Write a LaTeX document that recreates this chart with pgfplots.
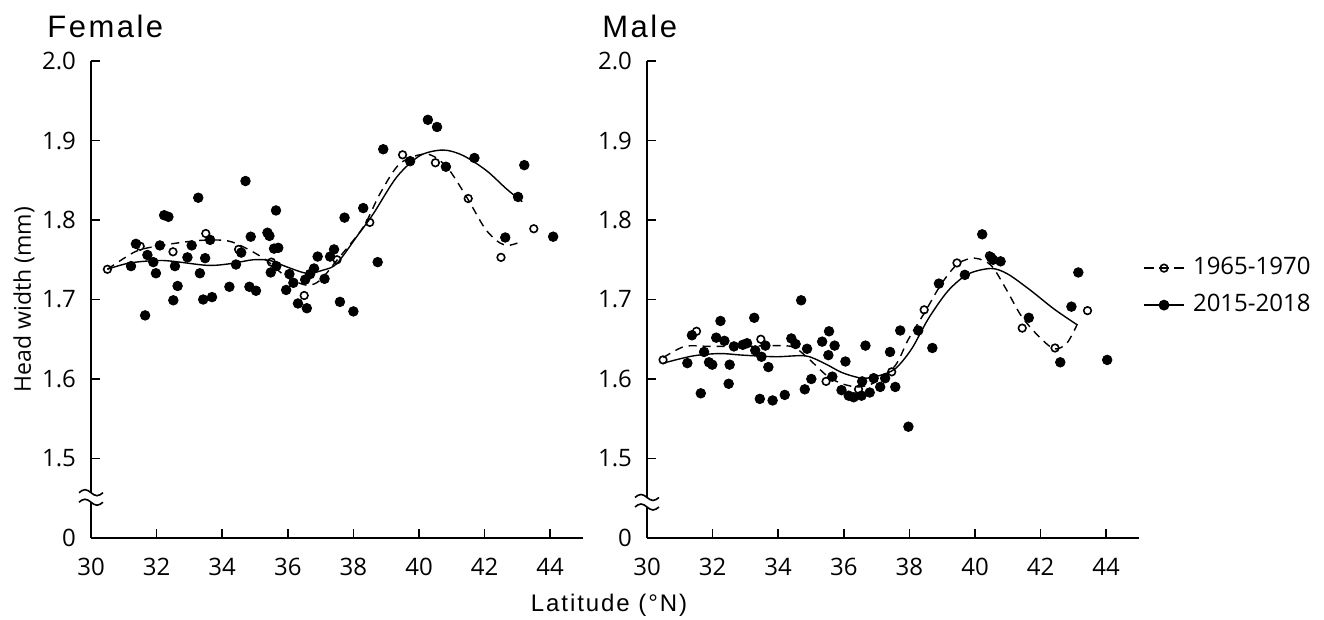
\documentclass[border=0pt]{standalone}
\usepackage{pgfplots}
\pgfplotsset{compat=1.18}
\usepackage{fontspec}
\setmainfont{Open Sans}
\newfontfamily\spacedfont[LetterSpace=8]{Liberation Sans}

\tikzset{brk/.style={line width=0.8pt}}
\pgfplotsset{
  hw/.style={
    scale only axis, width=246pt, height=238.5pt,
    xmin=30, xmax=45, ymin=1.4, ymax=2.0,
    axis x line=bottom, axis y line=left,
    axis line style={line width=0.9pt, -},
    xtick={30,32,...,44},
    ytick={1.4,1.5,1.6,1.7,1.8,1.9,2.0},
    yticklabels={0,1.5,1.6,1.7,1.8,1.9,2.0},
    tick align=inside, major tick length=4.5pt,
    tick style={line width=0.8pt, black},
    ticklabel style={font=\fontsize{12}{14}\selectfont},
    xticklabel style={yshift=-6.5pt},
    yticklabel style={xshift=-4pt},
    /pgf/number format/assume math mode=true,
    clip=false,
  },
  old pts/.style={black, only marks, mark=o, mark size=1.9pt, mark options={line width=0.8pt, fill=white}},
  new pts/.style={black, only marks, mark=*, mark size=2.4pt},
  old line/.style={black, no marks, smooth, line width=0.7pt, dash pattern=on 4pt off 3pt},
  new line/.style={black, no marks, smooth, line width=0.7pt},
}

\begin{document}
\begin{tikzpicture}
% ---------------- Female ----------------
\begin{axis}[hw, at={(0pt,0pt)}, anchor=south west]
\addplot[old line] coordinates {(30.5,1.738)(31.34,1.760)(32.0,1.767)(33.22,1.774)(34.14,1.774)(34.75,1.764)(35.36,1.749)(35.97,1.728)(36.58,1.718)(36.98,1.724)(37.49,1.749)(38.30,1.791)(38.81,1.833)(39.42,1.871)(40.23,1.883)(40.84,1.867)(41.45,1.829)(42.0,1.790)(42.4,1.773)(42.7,1.768)(43.0,1.771)};
\addplot[new line] coordinates {(30.5,1.738)(31.19,1.746)(32.21,1.749)(33.53,1.743)(34.24,1.745)(34.95,1.750)(35.46,1.749)(35.97,1.741)(36.58,1.733)(37.08,1.737)(37.49,1.745)(38.10,1.779)(38.61,1.808)(39.32,1.854)(40.03,1.881)(40.74,1.888)(41.35,1.881)(42.06,1.862)(42.67,1.839)(43.15,1.823)};
\addplot[new pts] coordinates {
(31.22,1.742)(31.37,1.770)(31.65,1.680)(31.72,1.756)(31.90,1.747)(31.98,1.733)(32.10,1.768)(32.23,1.806)(32.36,1.804)(32.51,1.699)
(32.56,1.742)(32.64,1.717)(32.94,1.753)(33.07,1.768)(33.27,1.828)(33.32,1.733)(33.42,1.700)(33.48,1.752)(33.63,1.775)(33.69,1.703)
(34.22,1.716)(34.42,1.744)(34.58,1.759)(34.71,1.849)(34.83,1.716)(34.87,1.779)(35.03,1.711)(35.38,1.784)(35.44,1.780)(35.48,1.734)
(35.58,1.764)(35.64,1.812)(35.71,1.765)(35.65,1.742)(35.95,1.712)(36.05,1.732)(36.17,1.721)(36.31,1.695)(36.58,1.689)(36.53,1.725)
(36.68,1.732)(36.80,1.739)(36.91,1.754)(37.12,1.726)(37.29,1.754)(37.41,1.763)(37.59,1.697)(37.73,1.803)(38.00,1.685)(38.30,1.815)
(38.74,1.747)(38.91,1.889)(39.73,1.874)(40.27,1.926)(40.55,1.917)(40.82,1.867)(41.69,1.878)(42.63,1.778)(43.02,1.829)(43.21,1.869)
(44.09,1.779)};
\addplot[old pts] coordinates {(30.5,1.738)(31.5,1.767)(32.5,1.760)(33.5,1.783)(34.5,1.763)(35.5,1.747)(36.5,1.705)(37.5,1.750)(38.5,1.797)(39.5,1.882)(40.5,1.872)(41.5,1.827)(42.5,1.753)(43.5,1.789)};
% axis break
\fill[white] ([xshift=-2pt]axis cs:30,1.445) rectangle ([xshift=2pt]axis cs:30,1.457);
\draw[brk] ([xshift=-6pt]axis cs:30,1.457) sin ++(3pt,1.5pt) cos ++(3pt,-1.5pt) sin ++(3pt,-1.5pt) cos ++(3pt,1.5pt);
\draw[brk] ([xshift=-6pt]axis cs:30,1.445) sin ++(3pt,1.5pt) cos ++(3pt,-1.5pt) sin ++(3pt,-1.5pt) cos ++(3pt,1.5pt);
\node[anchor=base west, font=\spacedfont\fontsize{15.5}{18}\selectfont, inner sep=0pt] at ([xshift=-22pt, yshift=12pt]rel axis cs:0,1) {Female};
\node[rotate=90, font=\fontsize{11.5}{13}\selectfont] at ([xshift=-33.5pt]rel axis cs:0,0.5) {Head width (mm)};
\node[anchor=base, font=\spacedfont\fontsize{12}{14}\selectfont, inner sep=0pt] at ([xshift=259pt, yshift=-37pt]rel axis cs:0,0) {Latitude (°N)};
\end{axis}

% ---------------- Male ----------------
\begin{axis}[hw, at={(278pt,0pt)}, anchor=south west,
  legend style={at={(axis description cs:1.008,0.527)}, anchor=west, draw=none, fill=none, inner sep=0pt,
    font=\fontsize{12}{14}\selectfont, row sep=6pt, nodes={inner sep=1pt, text height=8.5pt, text depth=2pt}},
  legend cell align=left,
]
\addlegendimage{legend image code/.code={
  \path[draw=none, fill=none] (0pt,-4pt) rectangle (23.5pt,4pt);
  \draw[black, line width=0.7pt, dash pattern=on 5pt off 2.5pt] (0pt,0pt) -- (20pt,0pt);
  \draw[black, line width=0.8pt] (10pt,0pt) circle (1.9pt);}}
\addlegendentry{1965-1970}
\addlegendimage{legend image code/.code={
  \path[draw=none, fill=none] (0pt,-4pt) rectangle (23.5pt,4pt);
  \draw[black, line width=0.7pt] (0pt,0pt) -- (20pt,0pt);
  \fill[black] (10pt,0pt) circle (2.5pt);}}
\addlegendentry{2015-2018}
\addplot[old line, forget plot] coordinates {(30.5,1.627)(31.15,1.641)(31.91,1.641)(32.92,1.641)(33.93,1.642)(34.48,1.640)(34.94,1.625)(35.49,1.604)(35.95,1.594)(36.45,1.590)(36.96,1.596)(37.57,1.617)(37.97,1.650)(38.47,1.684)(38.98,1.720)(39.48,1.745)(39.99,1.752)(40.49,1.743)(40.95,1.713)(41.40,1.680)(41.91,1.655)(42.41,1.638)(42.8,1.645)(43.12,1.669)};
\addplot[new line, forget plot] coordinates {(30.5,1.620)(31.40,1.629)(32.21,1.632)(32.92,1.630)(33.93,1.628)(34.84,1.629)(35.44,1.619)(35.95,1.608)(36.56,1.601)(37.06,1.604)(37.57,1.613)(38.07,1.638)(38.58,1.676)(39.18,1.711)(39.79,1.732)(40.49,1.739)(41.00,1.732)(41.71,1.711)(42.41,1.688)(43.12,1.668)};
\addplot[new pts, forget plot] coordinates {
(31.23,1.620)(31.37,1.655)(31.64,1.582)(31.74,1.634)(31.89,1.621)(31.99,1.618)(32.11,1.652)(32.24,1.673)(32.36,1.648)(32.49,1.594)
(32.52,1.618)(32.65,1.641)(32.92,1.643)(33.05,1.645)(33.27,1.677)(33.30,1.636)(33.44,1.575)(33.49,1.628)(33.61,1.642)(33.70,1.615)
(33.83,1.573)(34.20,1.580)(34.40,1.651)(34.53,1.644)(34.70,1.699)(34.81,1.587)(34.88,1.638)(35.01,1.600)(35.34,1.647)(35.53,1.630)
(35.55,1.660)(35.72,1.642)(35.65,1.603)(35.93,1.586)(36.05,1.622)(36.15,1.579)(36.30,1.577)(36.54,1.579)(36.56,1.597)(36.66,1.642)
(36.79,1.583)(36.91,1.601)(37.11,1.590)(37.26,1.601)(37.41,1.634)(37.57,1.590)(37.72,1.661)(37.97,1.540)(38.27,1.661)(38.70,1.639)
(38.90,1.720)(39.69,1.731)(40.22,1.782)(40.49,1.753)(40.55,1.750)(40.78,1.748)(41.64,1.677)(42.60,1.621)(42.94,1.691)(43.15,1.734)
(44.03,1.624)};
\addplot[old pts, forget plot] coordinates {(30.49,1.624)(31.51,1.660)(33.47,1.650)(35.46,1.597)(36.45,1.587)(37.46,1.609)(38.45,1.687)(39.45,1.746)(40.44,1.755)(41.44,1.664)(42.44,1.639)(43.43,1.686)};
% axis break
\fill[white] ([xshift=-2pt]axis cs:30,1.439) rectangle ([xshift=2pt]axis cs:30,1.451);
\draw[brk] ([xshift=-6pt]axis cs:30,1.451) sin ++(3pt,1.5pt) cos ++(3pt,-1.5pt) sin ++(3pt,-1.5pt) cos ++(3pt,1.5pt);
\draw[brk] ([xshift=-6pt]axis cs:30,1.439) sin ++(3pt,1.5pt) cos ++(3pt,-1.5pt) sin ++(3pt,-1.5pt) cos ++(3pt,1.5pt);
\node[anchor=base west, font=\spacedfont\fontsize{15.5}{18}\selectfont, inner sep=0pt] at ([xshift=-22.5pt, yshift=12pt]rel axis cs:0,1) {Male};
\end{axis}
\pgfresetboundingbox
\path (-45.5pt,-41pt) rectangle (616.5pt,269pt);
\end{tikzpicture}
\end{document}
